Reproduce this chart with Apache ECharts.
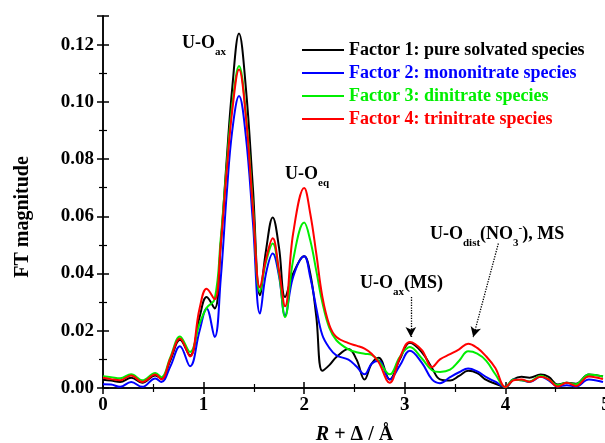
<!DOCTYPE html>
<html>
<head>
<meta charset="utf-8">
<script src="https://cdn.jsdelivr.net/npm/echarts@6/dist/echarts.min.js"></script>
<style>
  html, body { margin: 0; padding: 0; background: #fff; }
  #chart { width: 605px; height: 443px; }
</style>
</head>
<body>
<div id="chart"></div>
<script>
var font = 'Liberation Serif, Times New Roman, serif'

// R + delta (A)
var xs = [0, 0.08, 0.17, 0.28, 0.39, 0.52, 0.58, 0.67, 0.765, 0.865, 0.96, 1.03, 1.11, 1.17, 1.23, 1.285, 1.352, 1.42, 1.49, 1.56,
  1.62, 1.687, 1.75, 1.81, 1.89, 2.0, 2.06, 2.12, 2.18, 2.25, 2.32, 2.44, 2.52, 2.6, 2.67, 2.74, 2.85, 2.95, 3.05, 3.17,
  3.27, 3.35, 3.45, 3.54, 3.63, 3.72, 3.81, 3.9, 4.0, 4.08, 4.16, 4.24, 4.35, 4.43, 4.52, 4.61, 4.7, 4.83, 4.97]

var factor1 = [0.0029, 0.0026, 0.0021, 0.0036, 0.0018, 0.0044, 0.0033, 0.0097, 0.0169, 0.0114, 0.0248, 0.0318, 0.0278, 0.050, 0.080, 0.105, 0.1239, 0.105, 0.070, 0.0324,
  0.048, 0.0596, 0.049, 0.0318, 0.040, 0.046, 0.040, 0.025, 0.006, 0.008, 0.0108, 0.0136, 0.010, 0.003, 0.0085, 0.0106, 0.003, 0.010, 0.0158, 0.0125,
  0.007, 0.003, 0.0026, 0.0042, 0.006, 0.0052, 0.0028, 0.0015, 0.0003, 0.003, 0.0039, 0.0036, 0.0047, 0.0039, 0.0012, 0.0018, 0.0015, 0.0047, 0.004]

var factor2 = [0.0013, 0.0012, 0.0004, 0.0021, 0.0004, 0.0033, 0.0021, 0.0076, 0.0146, 0.0076, 0.020, 0.0278, 0.0178, 0.038, 0.068, 0.090, 0.102, 0.088, 0.058, 0.026,
  0.040, 0.047, 0.039, 0.0254, 0.0388, 0.046, 0.0388, 0.028, 0.0185, 0.014, 0.0114, 0.0099, 0.0075, 0.0048, 0.0085, 0.0095, 0.003, 0.0078, 0.013, 0.0088,
  0.003, 0.0017, 0.0038, 0.0055, 0.0068, 0.0058, 0.0038, 0.0022, 0.0003, 0.003, 0.0027, 0.0021, 0.0039, 0.0027, 0.0005, 0.001, 0.0005, 0.003, 0.0021]

var factor3 = [0.0041, 0.0038, 0.0034, 0.0048, 0.0027, 0.0052, 0.0038, 0.0108, 0.018, 0.0126, 0.0225, 0.028, 0.031, 0.052, 0.078, 0.099, 0.1125, 0.096, 0.064, 0.0336,
  0.044, 0.0505, 0.040, 0.0248, 0.0447, 0.0578, 0.0516, 0.041, 0.030, 0.021, 0.0167, 0.0135, 0.0125, 0.012, 0.0116, 0.0095, 0.0048, 0.0108, 0.0143, 0.0103,
  0.0062, 0.0056, 0.0064, 0.0095, 0.0128, 0.012, 0.0095, 0.0048, 0.0003, 0.003, 0.0027, 0.0023, 0.0043, 0.003, 0.001, 0.0018, 0.0013, 0.0047, 0.004]

var factor4 = [0.0036, 0.0031, 0.0027, 0.0044, 0.0021, 0.0047, 0.003, 0.0103, 0.0173, 0.011, 0.0278, 0.0347, 0.031, 0.050, 0.076, 0.097, 0.1113, 0.095, 0.063, 0.0351,
  0.045, 0.0523, 0.041, 0.0286, 0.054, 0.0699, 0.061, 0.047, 0.032, 0.022, 0.0178, 0.0157, 0.0148, 0.0138, 0.012, 0.009, 0.0018, 0.0105, 0.0161, 0.0132,
  0.0073, 0.010, 0.0118, 0.0135, 0.0155, 0.014, 0.011, 0.007, 0.0003, 0.0027, 0.003, 0.0022, 0.0039, 0.003, 0.0005, 0.0018, 0.0007, 0.004, 0.0031]

var names = ['Factor 1: pure solvated species', 'Factor 2: mononitrate species', 'Factor 3: dinitrate species', 'Factor 4: trinitrate species']
var colors = ['#000000', '#0000ff', '#00ee00', '#ff0000']

// dotted arrows [from, to] in data units
var arrows = [
  [[3.06, 0.0318], [3.06, 0.0178]],
  [[3.93, 0.0505], [3.68, 0.0178]]
]

function pairs(ys) {
  return xs.map(function (x, i) { return [x, ys[i]] })
}

var chart = echarts.init(document.getElementById('chart'))

var sub = { fontSize: 11, fontWeight: 'bold', fontFamily: font, padding: [18, 0, 0, 0] }
var sup = { fontSize: 11, fontWeight: 'bold', fontFamily: font, padding: [0, 0, 12, 0] }
var main = { fontSize: 18, fontWeight: 'bold', fontFamily: font }

function note(left, top, text) {
  return {
    type: 'text',
    left: left,
    top: top,
    style: { text: text, rich: { m: main, s: sub, p: sup }, fill: '#000' }
  }
}

var axisCommon = {
  axisLine: { lineStyle: { color: '#000', width: 1.5 } },
  axisTick: { inside: true, length: 6, lineStyle: { color: '#000', width: 1.5 } },
  minorTick: { show: true, splitNumber: 2, length: 4, lineStyle: { color: '#000', width: 1.2 } },
  splitLine: { show: false }
}

var series = [factor1, factor2, factor3, factor4].map(function (ys, i) {
  var s = {
    name: names[i],
    type: 'line',
    data: pairs(ys),
    smooth: 0.4,
    showSymbol: false,
    symbol: 'none',
    lineStyle: { color: colors[i], width: 2 },
    itemStyle: { color: colors[i] },
    animation: false
  }
  if (i === 0) {
    s.markLine = {
      silent: true,
      symbol: ['none', 'arrow'],
      symbolSize: [8, 10],
      label: { show: false },
      lineStyle: { type: 'dotted', color: '#000', width: 1.3 },
      data: arrows.map(function (a) { return [{ coord: a[0] }, { coord: a[1] }] })
    }
  }
  return s
})

chart.setOption({
  animation: false,
  grid: { left: 103, right: -1, top: 16, bottom: 55, outerBoundsMode: 'none', containLabel: false },
  legend: {
    orient: 'vertical',
    left: 297,
    top: 36,
    itemWidth: 42,
    itemHeight: 2,
    itemGap: 5,
    icon: 'rect',
    data: names.map(function (n, i) {
      return { name: n, textStyle: { color: colors[i] } }
    }),
    textStyle: { fontFamily: font, fontWeight: 'bold', fontSize: 18, lineHeight: 18 }
  },
  xAxis: [
    Object.assign({
      type: 'value',
      min: 0,
      max: 5,
      interval: 1,
      name: '{i|R} + Δ / Å',
      nameLocation: 'middle',
      nameGap: 37,
      nameTextStyle: {
        fontFamily: font, fontWeight: 'bold', fontSize: 20, color: '#000',
        rich: { i: { fontFamily: font, fontWeight: 'bold', fontStyle: 'italic', fontSize: 20 } }
      },
      axisLabel: { fontFamily: font, fontWeight: 'bold', fontSize: 19, color: '#000', margin: 8 }
    }, axisCommon),
    Object.assign({
      type: 'value',
      position: 'top',
      min: 0,
      max: 5,
      interval: 1,
      axisLabel: { show: false }
    }, axisCommon)
  ],
  yAxis: [
    Object.assign({
      type: 'value',
      min: 0,
      max: 0.13,
      interval: 0.02,
      name: 'FT magnitude',
      nameLocation: 'middle',
      nameGap: 70,
      nameTextStyle: { fontFamily: font, fontWeight: 'bold', fontSize: 20, color: '#000', padding: [0, 0, 0, -30] },
      axisLabel: {
        fontFamily: font, fontWeight: 'bold', fontSize: 19, color: '#000', margin: 9,
        showMaxLabel: false,
        formatter: function (v) { return v.toFixed(2) }
      }
    }, axisCommon),
    Object.assign({
      type: 'value',
      position: 'right',
      min: 0,
      max: 0.13,
      interval: 0.02,
      axisLabel: { show: false }
    }, axisCommon)
  ],
  graphic: [
    note(182, 34, '{m|U-O}{s|ax}'),
    note(285, 165, '{m|U-O}{s|eq}'),
    note(360, 274, '{m|U-O}{s|ax}{m|(MS)}'),
    note(430, 223, '{m|U-O}{s|dist}{m|(NO}{s|3}{p|-}{m|), MS}')
  ],
  series: series
})
</script>
</body>
</html>
